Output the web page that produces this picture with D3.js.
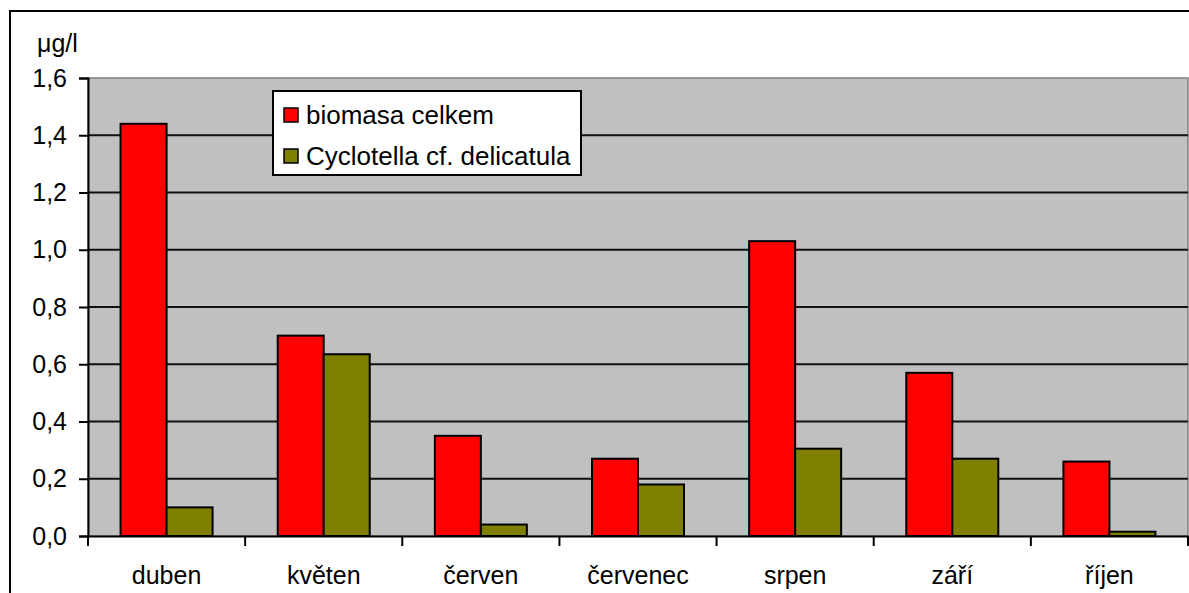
<!DOCTYPE html>
<html>
<head>
<meta charset="utf-8">
<script src="https://cdn.jsdelivr.net/npm/d3@7"></script>
<style>
html, body { margin: 0; padding: 0; background: #fff; }
svg { display: block; font-family: "Liberation Sans", Arial, sans-serif; }
</style>
</head>
<body>
<svg id="chart" width="1189" height="593"></svg>
<script>
const categories = ["duben", "květen", "červen", "červenec", "srpen", "září", "říjen"];
const seriesNames = ["biomasa celkem", "Cyclotella cf. delicatula"];
const biomasa = [1.44, 0.70, 0.35, 0.27, 1.03, 0.57, 0.26];
const cyclotella = [0.10, 0.635, 0.04, 0.18, 0.305, 0.27, 0.015];
const yTicks = [0, 0.2, 0.4, 0.6, 0.8, 1.0, 1.2, 1.4, 1.6];
const yUnit = "μg/l";
const colors = ["#FF0000", "#808000"];

const svg = d3.select("#chart");
const plot = { left: 88, top: 78, right: 1188, bottom: 536 };

// outer chart border
svg.append("rect")
  .attr("x", 10).attr("y", 11)
  .attr("width", 1200).attr("height", 620)
  .attr("fill", "#fff").attr("stroke", "#000").attr("stroke-width", 2);

const x0 = d3.scaleBand().domain(categories).range([plot.left, plot.right]).padding(0);
const x1 = d3.scaleBand().domain(seriesNames)
  .range([(x0.bandwidth() - 92) / 2, (x0.bandwidth() + 92) / 2]).padding(0);
const y = d3.scaleLinear().domain([0, 1.6]).range([plot.bottom, plot.top]);

// plot background
svg.append("rect")
  .attr("x", plot.left).attr("y", plot.top)
  .attr("width", plot.right - plot.left).attr("height", plot.bottom - plot.top)
  .attr("fill", "#C0C0C0").attr("stroke", "#808080").attr("stroke-width", 1.5);

// gridlines
svg.append("g").selectAll("line")
  .data(yTicks.filter(d => d > 0 && d < 1.6))
  .join("line")
  .attr("x1", plot.left).attr("x2", plot.right)
  .attr("y1", d => y(d)).attr("y2", d => y(d))
  .attr("stroke", "#111").attr("stroke-width", 2);

// bars
const data = categories.map((c, i) => ({ cat: c, vals: [biomasa[i], cyclotella[i]] }));
const groups = svg.append("g").selectAll("g")
  .data(data).join("g")
  .attr("transform", d => `translate(${x0(d.cat)},0)`);
groups.selectAll("rect")
  .data(d => d.vals.map((v, j) => ({ name: seriesNames[j], v, j })))
  .join("rect")
  .attr("x", d => x1(d.name))
  .attr("width", x1.bandwidth())
  .attr("y", d => y(d.v))
  .attr("height", d => y(0) - y(d.v))
  .attr("fill", d => colors[d.j])
  .attr("stroke", "#000").attr("stroke-width", 2);

// y axis
const fmt = d => d3.format(".1f")(d).replace(".", ",");
const yAxis = d3.axisLeft(y).tickValues(yTicks).tickFormat(fmt).tickSize(9).tickPadding(12);
const yg = svg.append("g").attr("transform", `translate(${plot.left},0)`).call(yAxis);
yg.select(".domain").attr("stroke", "#000").attr("stroke-width", 2);
yg.selectAll(".tick line").attr("stroke", "#000").attr("stroke-width", 2);
yg.selectAll(".tick text").attr("font-size", 25).attr("fill", "#000")
  .attr("font-family", "'Liberation Sans', Arial, sans-serif");

// x axis
const xAxis = d3.axisBottom(x0).tickSize(0).tickPadding(0).tickFormat(d => d);
const xg = svg.append("g").attr("transform", `translate(0,${plot.bottom})`).call(xAxis);
xg.select(".domain").attr("stroke", "#000").attr("stroke-width", 2);
xg.selectAll(".tick text").attr("font-size", 25).attr("fill", "#000")
  .attr("dy", 0).attr("y", 48)
  .attr("font-family", "'Liberation Sans', Arial, sans-serif");
// boundary tick marks
const bounds = categories.map(c => x0(c)).concat([plot.right]);
xg.selectAll("line.bound").data(bounds).join("line")
  .attr("class", "bound")
  .attr("x1", d => d).attr("x2", d => d)
  .attr("y1", 0).attr("y2", 10)
  .attr("stroke", "#000").attr("stroke-width", 2);

// unit label
svg.append("text").attr("x", 37).attr("y", 52)
  .attr("font-size", 25).attr("fill", "#000").text(yUnit);

// legend
const lg = svg.append("g");
lg.append("rect").attr("x", 273).attr("y", 91).attr("width", 308).attr("height", 84)
  .attr("fill", "#fff").attr("stroke", "#000").attr("stroke-width", 2);
seriesNames.forEach((n, i) => {
  const yy = 108 + i * 41;
  lg.append("rect").attr("x", 284).attr("y", yy).attr("width", 14).attr("height", 14)
    .attr("fill", colors[i]).attr("stroke", "#000").attr("stroke-width", 1.5);
  lg.append("text").attr("x", 306).attr("y", yy + 15.5)
    .attr("font-size", 26).attr("fill", "#000").text(n);
});
</script>
</body>
</html>
